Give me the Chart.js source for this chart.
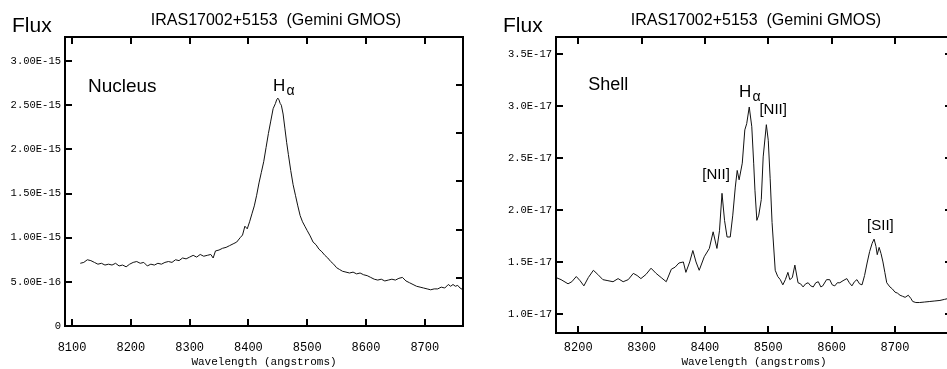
<!DOCTYPE html>
<html>
<head>
<meta charset="utf-8">
<script src="https://cdn.jsdelivr.net/npm/chart.js@4.4.0/dist/chart.umd.min.js"></script>
<style>
  html, body { margin: 0; padding: 0; background: #fff; overflow: hidden; width: 947px; height: 369px; }
  #nucleusChart { position: absolute; left: 0; top: 0; }
  #shellChart { position: absolute; left: 470px; top: 0; }
</style>
</head>
<body>
<canvas id="nucleusChart" width="470" height="369"></canvas>
<canvas id="shellChart" width="490" height="369"></canvas>
<script>
// Nucleus spectrum (flux in units of 1E-15)
const nucleusWave = [8114, 8120, 8126, 8132, 8138, 8144, 8150, 8156, 8162, 8168, 8174, 8180, 8186, 8192, 8198,
  8204, 8210, 8216, 8222, 8228, 8234, 8240, 8246, 8252, 8258, 8264, 8270, 8276, 8282, 8288, 8294,
  8300, 8306, 8312, 8318, 8324, 8330, 8336, 8340, 8344, 8350, 8356, 8362, 8368, 8374, 8380, 8386,
  8390, 8394, 8398, 8402, 8406, 8410, 8414, 8418, 8422, 8426, 8430, 8434, 8438, 8442, 8446, 8448,
  8450, 8452, 8454, 8456, 8459, 8462, 8465, 8468, 8472, 8476, 8480, 8484, 8488, 8492, 8496, 8500,
  8505, 8510, 8515, 8520, 8525, 8530, 8535, 8540, 8545, 8550, 8555, 8560, 8566, 8572, 8578, 8584,
  8590, 8596, 8602, 8608, 8614, 8620, 8626, 8632, 8638, 8644, 8650, 8656, 8662, 8668, 8674, 8680,
  8686, 8692, 8698, 8704, 8710, 8716, 8722, 8728, 8734, 8740, 8744, 8748, 8752, 8756, 8760, 8765];
const nucleusFlux = [0.71, 0.72, 0.75, 0.74, 0.72, 0.70, 0.71, 0.69, 0.70, 0.69, 0.71, 0.68, 0.69, 0.67, 0.70,
  0.72, 0.73, 0.71, 0.72, 0.68, 0.70, 0.69, 0.71, 0.70, 0.72, 0.73, 0.72, 0.75, 0.74, 0.77, 0.76,
  0.78, 0.80, 0.78, 0.81, 0.79, 0.80, 0.81, 0.77, 0.85, 0.86, 0.88, 0.89, 0.91, 0.93, 0.95, 1.00,
  1.03, 1.13, 1.10, 1.18, 1.27, 1.36, 1.48, 1.62, 1.74, 1.86, 2.02, 2.18, 2.32, 2.46, 2.52, 2.56,
  2.58, 2.56, 2.52, 2.50, 2.40, 2.24, 2.08, 1.94, 1.76, 1.60, 1.48, 1.36, 1.25, 1.18, 1.13, 1.08,
  1.02, 0.95, 0.92, 0.87, 0.84, 0.80, 0.77, 0.73, 0.70, 0.66, 0.64, 0.62, 0.61, 0.60, 0.61, 0.59,
  0.60, 0.58, 0.57, 0.55, 0.53, 0.52, 0.53, 0.51, 0.52, 0.53, 0.52, 0.54, 0.55, 0.51, 0.49, 0.47,
  0.45, 0.44, 0.43, 0.42, 0.41, 0.42, 0.42, 0.44, 0.43, 0.47, 0.45, 0.47, 0.45, 0.46, 0.43, 0.41];

// Shell spectrum (flux in units of 1E-17)
const shellWave = [8165, 8173, 8184, 8190, 8197, 8203, 8209, 8216, 8224, 8231, 8239, 8247, 8255, 8263, 8271,
  8279, 8287, 8293, 8299, 8307, 8315, 8323, 8331, 8339, 8347, 8353, 8359, 8366, 8370, 8376, 8381,
  8386, 8391, 8399, 8407, 8413, 8419, 8423, 8427, 8431, 8435, 8440, 8444, 8448, 8451, 8454, 8459,
  8463, 8466, 8470, 8474, 8477, 8479, 8482, 8485, 8489, 8492, 8497, 8500, 8503, 8506, 8511, 8515,
  8519, 8523, 8527, 8531, 8534, 8538, 8542, 8547, 8551, 8555, 8559, 8563, 8567, 8571, 8575, 8579,
  8583, 8586, 8592, 8597, 8601, 8605, 8609, 8613, 8618, 8624, 8628, 8632, 8636, 8640, 8644, 8648,
  8652, 8656, 8660, 8664, 8667, 8670, 8672, 8675, 8678, 8681, 8684, 8687, 8692, 8696, 8700, 8704,
  8708, 8712, 8716, 8721, 8725, 8728, 8733, 8739, 8747, 8755, 8763, 8771, 8778, 8785];
const shellFlux = [1.35, 1.33, 1.29, 1.31, 1.36, 1.32, 1.27, 1.35, 1.42, 1.38, 1.33, 1.32, 1.31, 1.34, 1.31,
  1.33, 1.39, 1.37, 1.34, 1.38, 1.44, 1.39, 1.35, 1.31, 1.43, 1.45, 1.49, 1.50, 1.40, 1.50, 1.61,
  1.50, 1.42, 1.55, 1.63, 1.79, 1.63, 1.80, 2.16, 1.90, 1.74, 1.74, 1.95, 2.22, 2.38, 2.29, 2.45,
  2.77, 2.83, 2.99, 2.80, 2.45, 2.19, 1.90, 1.95, 2.10, 2.51, 2.82, 2.67, 2.30, 1.88, 1.42, 1.36,
  1.33, 1.28, 1.33, 1.40, 1.33, 1.35, 1.47, 1.30, 1.29, 1.26, 1.29, 1.30, 1.27, 1.26, 1.30, 1.31,
  1.26, 1.27, 1.33, 1.33, 1.28, 1.27, 1.30, 1.30, 1.32, 1.34, 1.30, 1.27, 1.31, 1.33, 1.29, 1.28,
  1.37, 1.49, 1.60, 1.68, 1.72, 1.65, 1.57, 1.64, 1.58, 1.50, 1.40, 1.30, 1.26, 1.24, 1.21, 1.20,
  1.18, 1.17, 1.16, 1.18, 1.15, 1.12, 1.11, 1.11, 1.115, 1.12, 1.125, 1.13, 1.14, 1.15];

const titleText = 'IRAS17002+5153  (Gemini GMOS)';
const xTitle = 'Wavelength (angstroms)';

// line labels: text, wavelength, flux (panel units)
const nucleusNotes = [['Nucleus', 8127, 2.65, 19]];
const nucleusLines = [['H', 8442, 2.66]];
const shellNotes = [['Shell', 8216, 3.15, 18], ['[NII]', 8486, 2.92, 15], ['[NII]', 8396, 2.30, 15], ['[SII]', 8656, 1.81, 15]];
const shellLines = [['H', 8454, 3.09]];

const SANS = '"Liberation Sans", Arial, sans-serif';
const MONO = '"Liberation Mono", "DejaVu Sans Mono", monospace';

// box + inward tick marks on all four sides
const innerTicks = {
    id: 'innerTicks',
    afterDraw(chart, args, opts) {
        const ctx = chart.ctx;
        const a = chart.chartArea;
        const len = 7;
        ctx.save();
        ctx.strokeStyle = '#000';
        ctx.lineWidth = 2;
        ctx.strokeRect(a.left, a.top, a.right - a.left, a.bottom - a.top);
        ctx.beginPath();
        const xs = chart.scales.x;
        xs.ticks.forEach(t => {
            const px = Math.round(xs.getPixelForValue(t.value));
            ctx.moveTo(px, a.bottom); ctx.lineTo(px, a.bottom - len);
            ctx.moveTo(px, a.top); ctx.lineTo(px, a.top + len);
        });
        const ys = chart.scales.y;
        ys.ticks.forEach(t => {
            const py = Math.round(ys.getPixelForValue(t.value));
            ctx.moveTo(a.left, py); ctx.lineTo(a.left + len, py);
        });
        const rs = chart.scales[opts.rightAxis];
        rs.ticks.forEach(t => {
            const py = Math.round(rs.getPixelForValue(t.value));
            ctx.moveTo(a.right, py); ctx.lineTo(a.right - len, py);
        });
        ctx.stroke();
        ctx.restore();
    }
};

// "Flux", title and line labels
const panelText = {
    id: 'panelText',
    afterDraw(chart, args, opts) {
        const ctx = chart.ctx;
        const xs = chart.scales.x, ys = chart.scales.y;
        ctx.save();
        ctx.fillStyle = '#000';
        ctx.textBaseline = 'alphabetic';
        ctx.font = '21px ' + SANS;
        ctx.fillText('Flux', opts.fluxX, 32);
        ctx.font = '16px ' + SANS;
        ctx.textAlign = 'center';
        ctx.fillText(titleText, opts.titleX, 25);
        ctx.textAlign = 'left';
        opts.notes.forEach(n => {
            ctx.font = n[3] + 'px ' + SANS;
            ctx.fillText(n[0], xs.getPixelForValue(n[1]), ys.getPixelForValue(n[2]));
        });
        opts.lines.forEach(n => {
            const px = xs.getPixelForValue(n[1]), py = ys.getPixelForValue(n[2]);
            ctx.font = '17px ' + SANS;
            ctx.fillText(n[0], px, py);
            const w = ctx.measureText(n[0]).width;
            ctx.font = '14px ' + SANS;
            ctx.fillText('\u03B1', px + w + 1, py + 4);
        });
        ctx.restore();
    }
};

function makeChart(id, wave, flux, cfg) {
    return new Chart(document.getElementById(id), {
        type: 'line',
        data: {
            datasets: [{
                data: wave.map((w, i) => ({x: w, y: flux[i]})),
                borderColor: '#111',
                borderWidth: 1,
                pointRadius: 0,
                tension: 0
            }]
        },
        options: {
            responsive: false,
            animation: false,
            devicePixelRatio: 1,
            layout: {padding: {left: 0, top: 37, right: cfg.padRight, bottom: 0}},
            plugins: {
                legend: {display: false},
                tooltip: {enabled: false},
                innerTicks: {rightAxis: cfg.rightAxis},
                panelText: {fluxX: cfg.fluxX, titleX: cfg.titleX, notes: cfg.notes, lines: cfg.lines}
            },
            scales: cfg.scales
        },
        plugins: [innerTicks, panelText]
    });
}

const xAxis = (min, max, h, pad) => ({
    type: 'linear', position: 'bottom', min: min, max: max,
    grid: {display: false, drawTicks: false}, border: {display: false},
    ticks: {stepSize: 100, includeBounds: false, padding: pad, color: '#000', font: {family: MONO, size: 12},
        callback: v => String(v)},
    title: {display: true, text: xTitle, color: '#000', font: {family: MONO, size: 11}, padding: {top: 0, bottom: 0}},
    afterFit: s => { s.height = h; }
});

const yAxis = (min, max, step, w, fmt) => ({
    type: 'linear', position: 'left', min: min, max: max,
    grid: {display: false, drawTicks: false}, border: {display: false},
    ticks: {stepSize: step, includeBounds: false, padding: 4, color: '#000', font: {family: MONO, size: 10.5},
        callback: fmt},
    afterFit: s => { s.width = w; }
});

const hiddenRight = (min, max, step) => ({
    type: 'linear', position: 'right', min: min, max: max,
    grid: {display: false, drawTicks: false}, border: {display: false},
    ticks: {display: false, stepSize: step, includeBounds: false},
    afterFit: s => { s.width = 0; }
});

makeChart('nucleusChart', nucleusWave, nucleusFlux, {
    padRight: 7, rightAxis: 'y2', fluxX: 12, titleX: 276,
    notes: nucleusNotes, lines: nucleusLines,
    scales: {
        x: xAxis(8088, 8765, 43, 15),
        y: yAxis(0, 3.272, 0.5, 65, v => v === 0 ? '0' : (v * 1e-15).toExponential(2).toUpperCase()),
        y2: hiddenRight(0, 5.99, 1)
    }
});

makeChart('shellChart', shellWave, shellFlux, {
    padRight: 8, rightAxis: 'y2', fluxX: 33, titleX: 286,
    notes: shellNotes, lines: shellLines,
    scales: {
        x: xAxis(8165, 8790, 36, 8),
        y: yAxis(0.817, 3.663, 0.5, 86, v => (v * 1e-17).toExponential(1).toUpperCase()),
        y2: hiddenRight(0.817, 3.663, 0.5)
    }
});
</script>
</body>
</html>
